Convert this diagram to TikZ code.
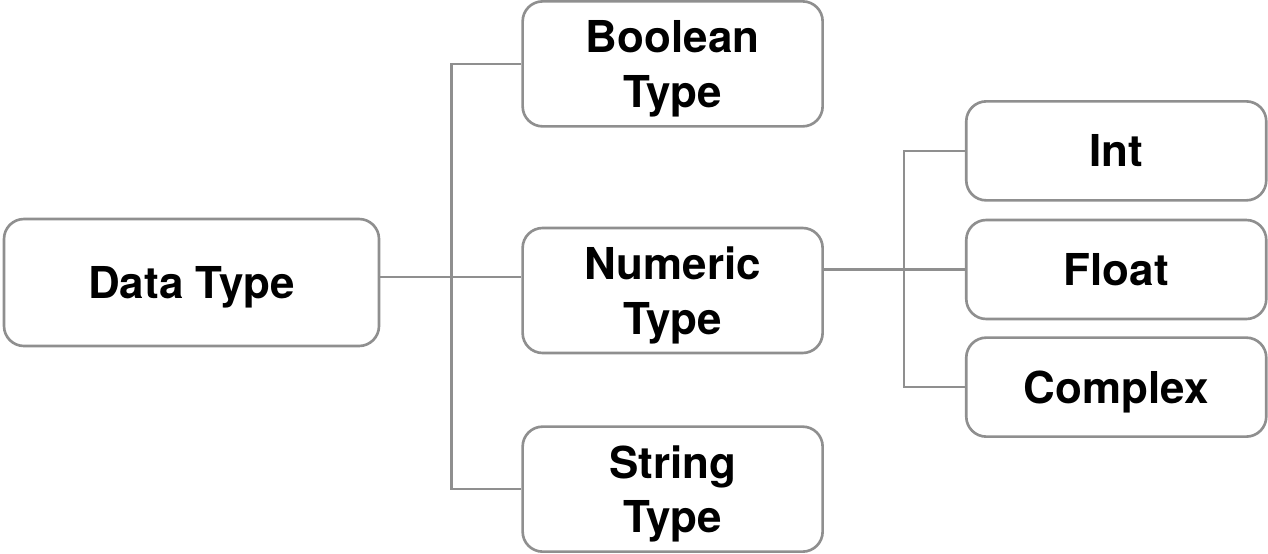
\documentclass[tikz,border=0pt]{standalone}
\usepackage{fontspec}
\setmainfont{TeX Gyre Heros}
\usetikzlibrary{positioning}

\begin{document}
\begin{tikzpicture}[
    node distance=1.2cm,
    box/.style={
        rectangle,
        rounded corners=0.4cm,
        draw=black!44,
        line width=1.5pt,
        fill=white,
        align=center,
        text depth=0pt,
        minimum width=6.0cm,
        minimum height=2.5cm,
        font=\fontsize{25}{31}\selectfont\bfseries
    },
    leaf/.style={
        box,
        minimum height=1.98cm
    },
    link/.style={
        draw=black!44,
        line width=1.5pt
    }
]
\useasboundingbox (0,0) rectangle (25.36,-11.08);

% ROOT box
\node[box, minimum width=7.5cm, minimum height=2.54cm] (dtype) at (3.83,-5.65) {Data Type};

% First level
\node[box, right=2.82cm of dtype, yshift=-0.16cm] (numeric) {Numeric\\Type};
\node[box, above=1.98cm of numeric] (boolean) {Boolean\\Type};
\node[box, below=1.42cm of numeric] (string) {String\\Type};

% Numeric subtypes
\node[leaf, right=2.82cm of numeric, yshift=0.42cm] (float) {Float};
\node[leaf, above=0.34cm of float] (int) {Int};
\node[leaf, below=0.32cm of float] (complex) {Complex};

% Connectors from root
\draw[link] ([yshift=0.11cm]dtype.east) -- ([yshift=0.11cm]dtype.east -| numeric.west);
\draw[link] (boolean.west) -- ++(-1.4,0) |- (string.west);

% Connectors from numeric
\draw[link] (float.west -| numeric.east) -- (float.west);
\draw[link] (int.west) -- ++(-1.22,0) |- (complex.west);

\end{tikzpicture}
\end{document}
